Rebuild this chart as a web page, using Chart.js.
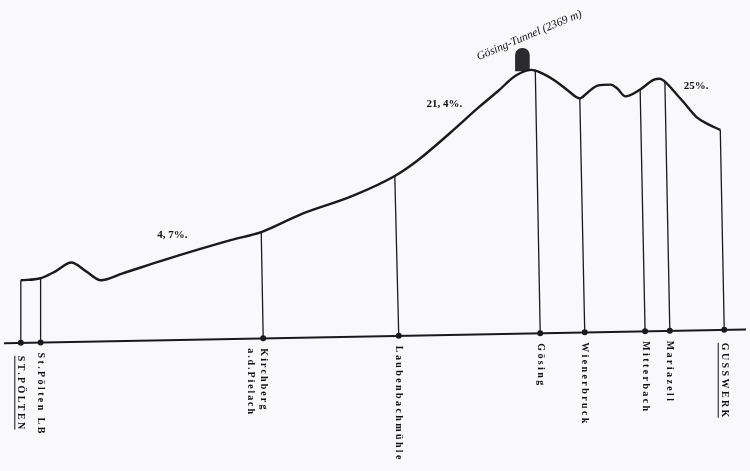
<!DOCTYPE html>
<html>
<head>
<meta charset="utf-8">
<script src="https://cdn.jsdelivr.net/npm/chart.js@4/dist/chart.umd.min.js"></script>
<style>
  html, body { margin: 0; padding: 0; background: #f9f9fb; }
  #wrap { width: 750px; height: 471px; }
</style>
</head>
<body>
<div id="wrap"><canvas id="profile_Mariazell"></canvas></div>
<script>
// drawing units: x = distance along the line, y = height above the page bottom
const stations = ["ST.PÖLTEN", "St.Pölten LB", "Kirchberg", "Laubenbachmühle", "Gösing", "Wienerbruck", "Mitterbach", "Mariazell", "GUSSWERK"];
const stationSub = ["", "", "a.d.Pielach", "", "", "", "", "", ""];
const stationX = [17, 37, 262, 399, 542, 587, 648, 673, 728];
const stationBase = [126.3, 126.7, 130.9, 133.4, 136.1, 137, 138.1, 138.6, 139.6];
const stationTopX = [17, 37, 260, 395, 537, 582, 643, 668, 724];
const stationTopH = [190, 192, 239, 296, 404, 375, 384, 392, 343];
const underlined = [true, false, false, false, false, false, false, false, true];

const profileX = [17, 37, 52, 68, 83, 98, 120, 163, 230, 260, 300, 353, 395, 417, 450, 480, 500, 517, 533, 543, 557, 570, 582, 590, 600, 613, 620, 628, 643, 657, 663, 668, 680, 687, 700, 713, 724];
const profileH = [190, 192, 199, 208, 199, 190, 197, 211, 231, 239, 257, 276, 296, 311, 339, 366, 383, 398, 404, 401, 393, 383, 375, 381, 388, 389, 385, 377, 384, 394, 395, 392, 379, 371, 356, 348, 343];

const baseX = [0, 750];
const baseH = [126, 140];

const grades = ["4, 7%.", "21, 4%.", "25%."];
const gradeX = [155, 427, 687];
const gradeH = [236, 369, 387];

const tunnelLabel = "Gösing-Tunnel (2369 m)";
const tunnelX = 524;
const tunnelH = [403, 426];

const pts = (xs, ys) => xs.map((x, i) => ({ x: x, y: ys[i] }));

const verticals = [];
stationX.forEach((x, i) => {
  verticals.push({ x: stationTopX[i], y: stationTopH[i] });
  verticals.push({ x: x, y: stationBase[i] });
  verticals.push({ x: x, y: null });
});

const ink = "#1a1a1e";

const labelPlugin = {
  id: "labels",
  afterDatasetsDraw(chart) {
    const ctx = chart.ctx;
    const sx = chart.scales.x, sy = chart.scales.y;
    ctx.save();
    ctx.fillStyle = "#111";
    ctx.strokeStyle = "#111";
    ctx.textBaseline = "middle";
    ctx.textAlign = "left";
    stations.forEach((name, i) => {
      const px = sx.getPixelForValue(stationX[i]);
      const py = sy.getPixelForValue(stationBase[i]) + 10;
      const sub = stationSub[i];
      ctx.save();
      ctx.translate(px, py);
      ctx.rotate(Math.PI / 2);
      const caps = name === name.toUpperCase();
      ctx.font = "bold 10px 'Liberation Serif'";
      ctx.letterSpacing = sub ? "2.1px" : "2.4px";
      if (caps) { ctx.translate(3, 0); }
      ctx.fillText(name, 0, 0);
      const w = ctx.measureText(name).width;
      if (underlined[i]) {
        ctx.lineWidth = 1;
        ctx.beginPath();
        ctx.moveTo(0, 6);
        ctx.lineTo(w - 2, 6);
        ctx.stroke();
      }
      if (sub) {
        ctx.letterSpacing = "1.9px";
        ctx.fillText(sub, 0, 13);
      }
      ctx.restore();
    });

    ctx.font = "bold 11px 'Liberation Serif'";
    ctx.letterSpacing = "0px";
    grades.forEach((g, i) => {
      ctx.fillText(g, sx.getPixelForValue(gradeX[i]), sy.getPixelForValue(gradeH[i]));
    });

    ctx.save();
    ctx.font = "italic 11.5px 'Liberation Serif'";
    ctx.textAlign = "center";
    ctx.translate(sx.getPixelForValue(531), sy.getPixelForValue(439));
    ctx.rotate(-23 * Math.PI / 180);
    ctx.fillText(tunnelLabel, 0, 0);
    ctx.restore();
    ctx.restore();
  }
};

const config_Profile = {
  type: "line",
  data: {
    datasets: [
      {
        label: "baseline",
        data: pts(baseX, baseH),
        borderColor: ink,
        borderWidth: 2,
        pointRadius: 0,
        tension: 0
      },
      {
        label: "stations",
        data: verticals,
        borderColor: ink,
        borderWidth: 1.3,
        pointRadius: 0,
        spanGaps: false,
        tension: 0
      },
      {
        label: "profile",
        data: pts(profileX, profileH),
        borderColor: ink,
        borderWidth: 2.4,
        pointRadius: 0,
        cubicInterpolationMode: "monotone"
      },
      {
        label: "stops",
        data: pts(stationX, stationBase),
        showLine: false,
        pointRadius: 3,
        pointBackgroundColor: ink,
        pointBorderWidth: 0
      },
      {
        type: "bar",
        label: "tunnel",
        data: [{ x: tunnelX, y: tunnelH }],
        backgroundColor: "#2b2b2e",
        barThickness: 14,
        borderSkipped: "start",
        borderRadius: { topLeft: 7, topRight: 7, bottomLeft: 0, bottomRight: 0 }
      }
    ]
  },
  options: {
    responsive: true,
    maintainAspectRatio: false,
    animation: false,
    layout: { padding: 0 },
    plugins: {
      legend: { display: false },
      tooltip: { enabled: false }
    },
    scales: {
      x: { type: "linear", min: 0, max: 750, display: false, offset: false },
      y: { type: "linear", min: 0, max: 471, display: false }
    }
  },
  plugins: [labelPlugin]
};

const ctx_Profile = document.getElementById("profile_Mariazell").getContext("2d");
const myChart_Profile = new Chart(ctx_Profile, config_Profile);
</script>
</body>
</html>
